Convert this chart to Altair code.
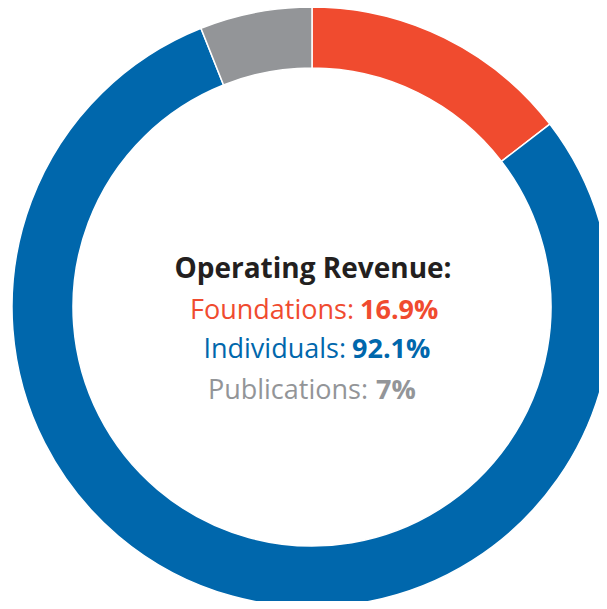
import altair as alt
import pandas as pd

categories = ["Foundations", "Individuals", "Publications"]
values = [16.9, 92.1, 7.0]
value_labels = ["16.9%", "92.1%", "7%"]
colors = ["#F04B2F", "#0067AC", "#939598"]
title_text = "Operating Revenue:"

df = pd.DataFrame({"category": categories, "value": values, "order": range(len(categories))})

W, H = 591, 593
CX, CY = 304, 299
FONT = "Open Sans"

donut = alt.Chart(df).mark_arc(
    outerRadius=300, innerRadius=239, stroke="white", strokeWidth=1.5
).encode(
    theta=alt.Theta("value:Q", stack=True),
    order=alt.Order("order:Q"),
    color=alt.Color("category:N", scale=alt.Scale(domain=categories, range=colors), legend=None),
    x=alt.value(CX),
    y=alt.value(CY),
)

layers = [donut]

title_df = pd.DataFrame({"t": [title_text]})
layers.append(
    alt.Chart(title_df).mark_text(
        font=FONT, fontSize=28, fontWeight="bold", color="#231F20", align="center", baseline="alphabetic"
    ).encode(text="t:N", x=alt.value(305), y=alt.value(270))
)

# layout per line: (colon end x, value start x, baseline y)
line_layout = [(346, 352, 311), (338, 344, 350), (360, 368, 391)]
for i, cat in enumerate(categories):
    ldf = pd.DataFrame({"label": [cat + ":"], "val": [value_labels[i]]})
    cx_end, vx, by = line_layout[i]
    layers.append(
        alt.Chart(ldf).mark_text(
            font=FONT, fontSize=27, fontWeight="normal", color=colors[i], align="right", baseline="alphabetic"
        ).encode(text="label:N", x=alt.value(cx_end), y=alt.value(by))
    )
    layers.append(
        alt.Chart(ldf).mark_text(
            font=FONT, fontSize=27, fontWeight="bold", color=colors[i], align="left", baseline="alphabetic"
        ).encode(text="val:N", x=alt.value(vx), y=alt.value(by))
    )

chart = alt.layer(*layers).properties(
    width=W, height=H, autosize=alt.AutoSizeParams(type="none"), padding=0
).configure_view(stroke=None)

chart.save("out.html", embed_options={"renderer": "svg", "actions": False})
